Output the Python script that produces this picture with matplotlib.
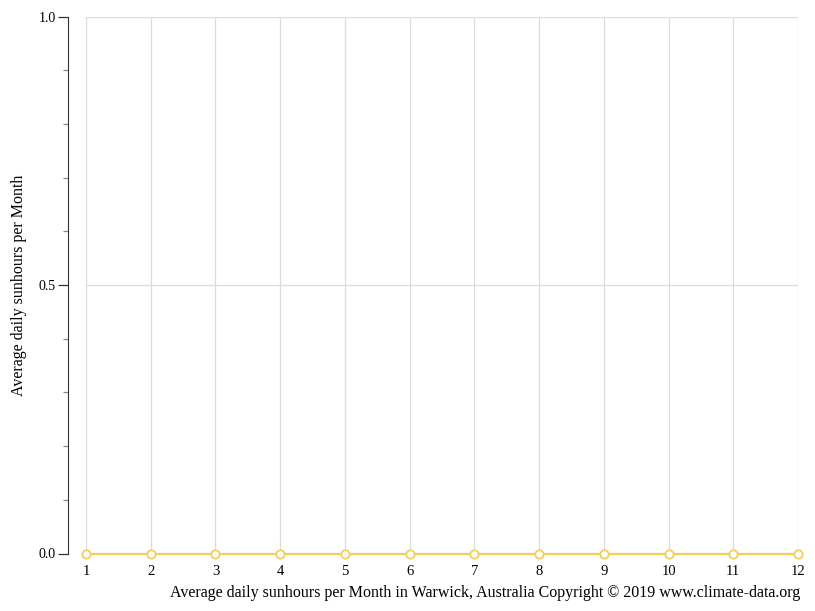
import numpy as np
import matplotlib.pyplot as plt
from matplotlib.ticker import MultipleLocator

months = [1, 2, 3, 4, 5, 6, 7, 8, 9, 10, 11, 12]
sunhours = [0, 0, 0, 0, 0, 0, 0, 0, 0, 0, 0, 0]
y_ticks = [0.0, 0.5, 1.0]

plt.rcParams['font.family'] = ['Liberation Serif', 'DejaVu Serif']

fig = plt.figure(figsize=(8.15, 6.11), dpi=100)
W, H = 815, 611
ax = fig.add_axes([86 / W, (H - 553.5) / H, (798 - 86) / W, (553.5 - 16.5) / H])

ax.plot(months, sunhours, color='#f2cf5b', lw=1.6, marker='o', ms=6,
        mfc='white', mec='#f2cf5b', mew=1.3, zorder=5, clip_on=False)

ax.set_xlim(1, 12)
ax.set_ylim(0, 1)
ax.set_xticks(months)
ax.set_yticks(y_ticks)
ax.set_yticklabels(['%.1f' % v for v in y_ticks])
ax.yaxis.set_minor_locator(MultipleLocator(0.1))

ax.grid(True, which='major', color='#dcdcdc', lw=0.9)
ax.set_axisbelow(True)

for s in ['top', 'right', 'bottom']:
    ax.spines[s].set_visible(False)
ax.spines['left'].set_position(('outward', 12.96))
ax.spines['left'].set_color('#333333')

ax.tick_params(axis='y', which='major', length=7, width=0.9, color='#333333',
               labelsize=10, pad=2)
ax.tick_params(axis='y', which='minor', length=3.5, width=0.9, color='#888888')
ax.tick_params(axis='x', length=0, labelsize=10.5, pad=8)

ax.set_ylabel('Average daily sunhours per Month', fontsize=11.5, labelpad=8)
fig.text(800 / W, 1 - 593 / H,
         'Average daily sunhours per Month in Warwick, Australia Copyright © 2019 www.climate-data.org',
         ha='right', va='center', fontsize=11.5)

fig.savefig('out.png', dpi=100)
